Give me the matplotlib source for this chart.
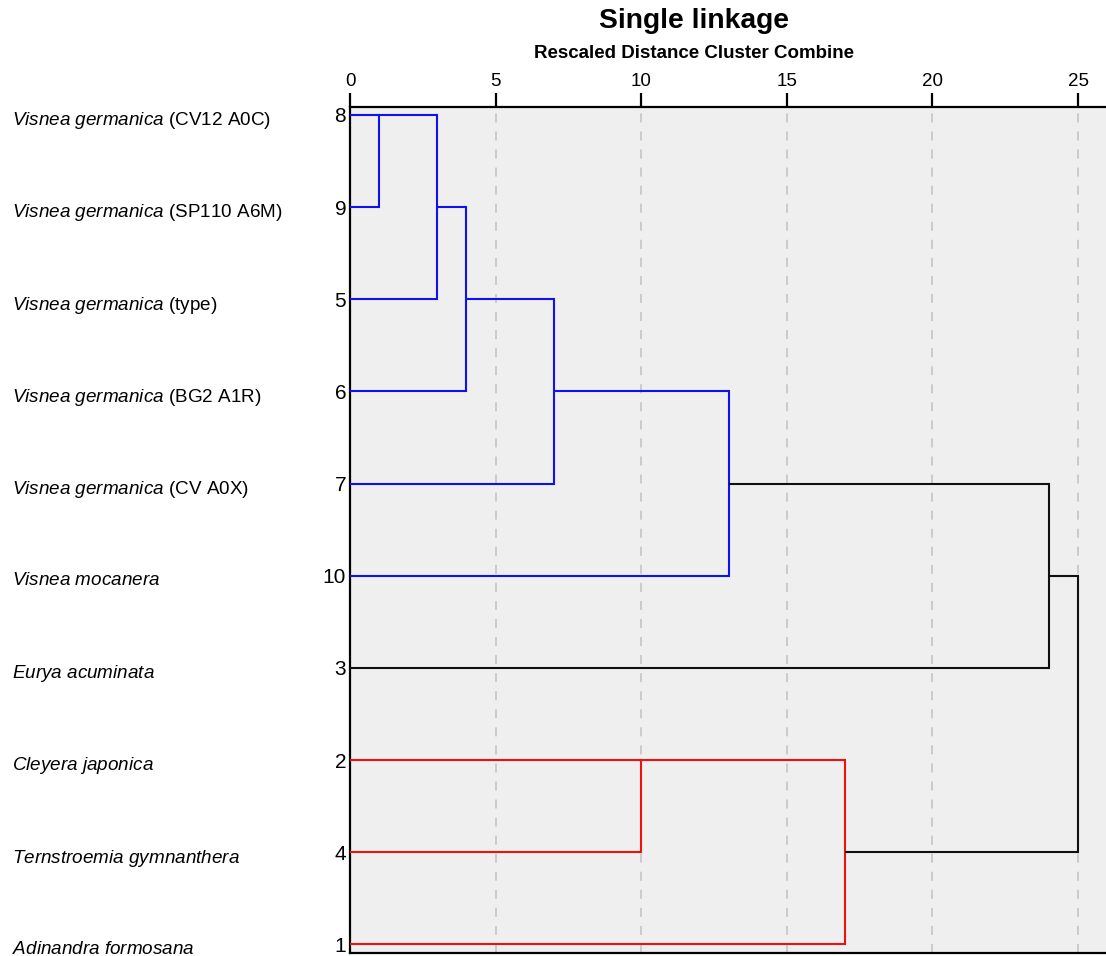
import matplotlib.pyplot as plt
from matplotlib.transforms import blended_transform_factory

plt.rcParams["font.family"] = ["Liberation Sans", "DejaVu Sans"]
plt.rcParams["mathtext.fontset"] = "custom"
plt.rcParams["mathtext.rm"] = "Liberation Sans"
plt.rcParams["mathtext.it"] = "Liberation Sans:italic"

# leaves in display order (top to bottom)
leaf_ids = [8, 9, 5, 6, 7, 10, 3, 2, 4, 1]
species = ["Visnea germanica", "Visnea germanica", "Visnea germanica",
           "Visnea germanica", "Visnea germanica", "Visnea mocanera",
           "Eurya acuminata", "Cleyera japonica", "Ternstroemia gymnanthera",
           "Adinandra formosana"]
strains = ["CV12 A0C", "SP110 A6M", "type", "BG2 A1R", "CV A0X",
           "", "", "", "", ""]

# merges: (node a, node b, rescaled distance, colour); new nodes numbered from 10
merge_a = [0, 10, 11, 12, 13, 14, 7, 16, 15]
merge_b = [1, 2, 3, 4, 5, 6, 8, 9, 17]
merge_h = [1, 3, 4, 7, 13, 24, 10, 17, 25]
merge_c = ["blue", "blue", "blue", "blue", "blue", "black", "red", "red", "black"]

colors = {"blue": "#1010f0", "red": "#f01010", "black": "#101010"}

fig = plt.figure(figsize=(11.06, 9.56), dpi=100)
ax = fig.add_axes([350 / 1106, 3.3 / 956, 1 - 350 / 1106, (952.7 - 106.7) / 956])
ax.set_facecolor("#efefef")

n = len(leaf_ids)
pos = {i: i for i in range(n)}
height = {i: 0 for i in range(n)}
for k, (a, b, h, c) in enumerate(zip(merge_a, merge_b, merge_h, merge_c)):
    col = colors[c]
    ax.plot([height[a], h], [pos[a], pos[a]], color=col, lw=1.5, solid_capstyle="butt", zorder=3)
    ax.plot([height[b], h], [pos[b], pos[b]], color=col, lw=1.5, solid_capstyle="butt", zorder=3)
    ax.plot([h, h], [pos[a], pos[b]], color=col, lw=1.5, zorder=3)
    node = n + k
    pos[node] = (pos[a] + pos[b]) // 2
    height[node] = h

for x in range(5, 26, 5):
    ax.axvline(x, color="#c8c8c8", lw=1.3, ls=(0, (5, 5)), zorder=1)

ax.set_xlim(0, 25.96)
ax.set_ylim(9.09, -0.09)
ax.xaxis.tick_top()
ax.set_xticks(range(0, 26, 5))
ax.tick_params(axis="x", length=10, width=1.6, labelsize=13.5, pad=2)
ax.set_yticks([])
for side in ["top", "left", "bottom"]:
    ax.spines[side].set_linewidth(1.6)
ax.spines["right"].set_visible(False)

label_tr = blended_transform_factory(fig.transFigure, ax.transData)
for i, (lid, sp, st) in enumerate(zip(leaf_ids, species, strains)):
    ax.text(-0.13, i, str(lid), ha="right", va="center_baseline", fontsize=15)
    lab = r"$\it{" + sp.replace(" ", r"\ ") + "}$"
    if st:
        lab += " (" + st + ")"
    fig.text(12 / 1106, i + 0.03, lab, fontsize=13.6, va="center_baseline", transform=label_tr)

fig.text(694 / 1106, 1 - 21 / 956, "Single linkage", ha="center", va="center",
         fontsize=20.3, fontweight="bold")
fig.text(694 / 1106, 1 - 54 / 956, "Rescaled Distance Cluster Combine", ha="center",
         va="center", fontsize=13.5, fontweight="bold")

fig.savefig("out.png", dpi=100)
